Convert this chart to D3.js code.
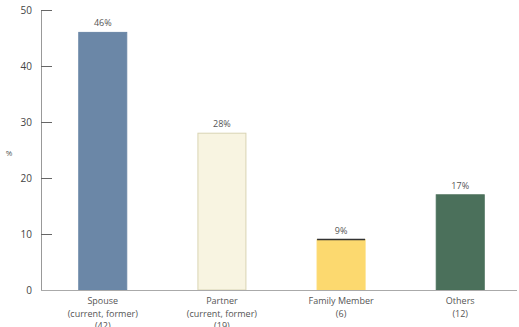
<!DOCTYPE html>
<html>
<head>
<meta charset="utf-8">
<script src="https://cdn.jsdelivr.net/npm/d3@7"></script>
<style>
  html, body { margin: 0; padding: 0; background: #fff; }
  svg { display: block; font-family: "Open Sans", "DejaVu Sans", sans-serif; }
</style>
</head>
<body>
<svg id="chart" width="519" height="327"></svg>
<script>
// Relationship of offender to victim (percent, with counts)
const categories = ["Spouse", "Partner", "Family Member", "Others"];
const subLabels = [
  ["(current, former)", "(42)"],
  ["(current, former)", "(19)"],
  ["(6)"],
  ["(12)"]
];
const values = [46, 28, 9, 17];
const colors = ["#6b87a7", "#f8f4e1", "#fcd96f", "#4b705b"];
const strokes = ["#6b87a7", "#d9d4b4", "#fcd96f", "#4b705b"];
const yTicks = [0, 10, 20, 30, 40, 50];

const svg = d3.select("#chart");
const x0 = 41, yTop = 10, yBase = 290;

const x = d3.scaleBand().domain(categories).range([43, 520]).paddingInner(0.597).paddingOuter(0.3);
const y = d3.scaleLinear().domain([0, 50]).range([yBase, yTop]);

// y axis with inward ticks
const yAxis = d3.axisRight(y).tickValues(yTicks).tickSize(11).tickFormat("");
const ya = svg.append("g").attr("transform", `translate(${x0},0)`).call(yAxis);
ya.select(".domain").attr("stroke", "#999").attr("d", `M0.5,${yTop}V${yBase}`);
ya.selectAll(".tick line").attr("stroke", "#666");

svg.append("g").selectAll("text").data(yTicks).join("text")
  .attr("x", 32).attr("y", d => y(d)).attr("dy", "0.35em")
  .attr("text-anchor", "end").attr("font-size", 10).attr("fill", "#444")
  .text(d => d);

svg.append("text").attr("x", 9).attr("y", 156).attr("text-anchor", "middle")
  .attr("font-size", 8).attr("fill", "#555").text("%");

// bars
const bw = 48;
const cx = d => x(d) + x.bandwidth() / 2;
svg.append("g").selectAll("rect").data(categories).join("rect")
  .attr("x", d => cx(d) - bw / 2)
  .attr("y", (d, i) => y(values[i]))
  .attr("width", bw)
  .attr("height", (d, i) => yBase - y(values[i]))
  .attr("fill", (d, i) => colors[i])
  .attr("stroke", (d, i) => strokes[i]).attr("stroke-width", 1);

// dark top edge on the family member bar
svg.append("line")
  .attr("x1", cx("Family Member") - bw / 2).attr("x2", cx("Family Member") + bw / 2)
  .attr("y1", y(values[2])).attr("y2", y(values[2]))
  .attr("stroke", "#333").attr("stroke-width", 1.5);

// x baseline
svg.append("line").attr("x1", x0).attr("x2", 517).attr("y1", yBase + 0.5).attr("y2", yBase + 0.5)
  .attr("stroke", "#aaa");

// value labels
svg.append("g").selectAll("text").data(categories).join("text")
  .attr("x", d => cx(d)).attr("y", (d, i) => y(values[i]) - 6)
  .attr("text-anchor", "middle").attr("font-size", 9).attr("fill", "#555")
  .text((d, i) => values[i] + "%");

// category labels
const cl = svg.append("g").selectAll("text").data(categories).join("text")
  .attr("x", d => cx(d)).attr("y", 304)
  .attr("text-anchor", "middle").attr("font-size", 9).attr("fill", "#555");
cl.append("tspan").attr("x", d => cx(d)).text(d => d);
cl.each(function (d, i) {
  subLabels[i].forEach(s => {
    d3.select(this).append("tspan").attr("x", cx(d)).attr("dy", 12.5).text(s);
  });
});
</script>
</body>
</html>
